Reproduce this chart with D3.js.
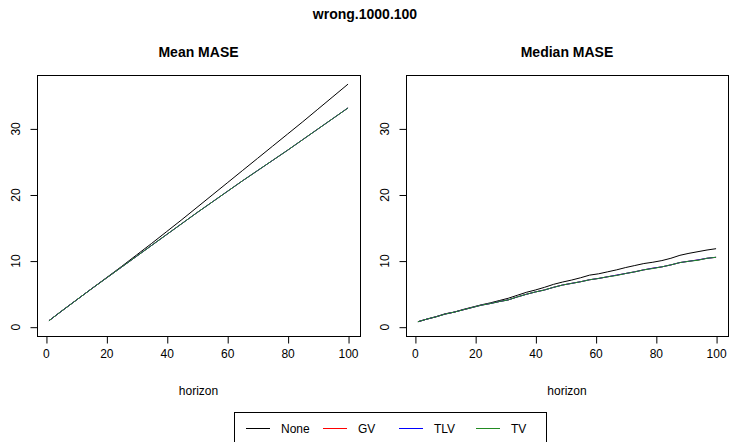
<!DOCTYPE html>
<html>
<head>
<meta charset="utf-8">
<script src="https://cdn.jsdelivr.net/npm/d3@7"></script>
<style>
  body { margin: 0; background: #fff; }
  svg { display: block; font-family: "Liberation Sans", Arial, sans-serif; }
</style>
</head>
<body>
<svg width="730" height="442"></svg>
<script>
// horizons for each panel
const meanHorizons = [1, 5, 10, 15, 20, 25, 30, 35, 40, 45, 50, 55, 60, 65, 70, 75, 80, 85, 90, 95, 100];
const medianHorizons = [1, 4, 7, 10, 13, 16, 19, 22, 25, 28, 31, 34, 37, 40, 43, 46, 49, 52, 55, 58, 61, 64, 67, 70, 73, 76, 79, 82, 85, 88, 91, 94, 97, 100];

// Mean MASE
const meanNone = [0.9, 2.3, 4.0, 5.7, 7.4, 9.1, 10.85, 12.6, 14.4, 16.2, 18.05, 19.9, 21.75, 23.6, 25.45, 27.3, 29.15, 31.0, 32.9, 34.8, 36.7];
const meanGV   = [0.9, 2.3, 4.0, 5.7, 7.35, 9.0, 10.65, 12.3, 13.95, 15.6, 17.25, 18.85, 20.45, 22.05, 23.6, 25.15, 26.7, 28.3, 29.9, 31.5, 33.1];
const meanTLV  = [0.9, 2.3, 4.0, 5.7, 7.35, 9.0, 10.65, 12.3, 13.95, 15.6, 17.25, 18.85, 20.45, 22.05, 23.6, 25.15, 26.7, 28.3, 29.9, 31.5, 33.1];
const meanTV   = [0.9, 2.3, 4.0, 5.7, 7.35, 9.0, 10.65, 12.3, 13.95, 15.6, 17.25, 18.85, 20.45, 22.05, 23.6, 25.15, 26.7, 28.3, 29.9, 31.5, 33.1];

// Median MASE
const medNone = [0.75, 1.15, 1.5, 1.95, 2.2, 2.6, 2.95, 3.3, 3.6, 3.95, 4.3, 4.75, 5.2, 5.55, 5.95, 6.4, 6.75, 7.05, 7.4, 7.8, 8.0, 8.3, 8.6, 8.95, 9.25, 9.55, 9.75, 10.0, 10.35, 10.8, 11.1, 11.35, 11.6, 11.8];
const medGV   = [0.75, 1.15, 1.5, 1.9, 2.2, 2.55, 2.9, 3.25, 3.5, 3.8, 4.05, 4.5, 4.9, 5.25, 5.55, 5.95, 6.3, 6.55, 6.8, 7.1, 7.3, 7.55, 7.8, 8.05, 8.3, 8.6, 8.85, 9.05, 9.35, 9.7, 9.9, 10.1, 10.35, 10.5];
const medTLV  = [0.75, 1.15, 1.5, 1.9, 2.2, 2.55, 2.9, 3.25, 3.5, 3.8, 4.05, 4.5, 4.9, 5.25, 5.55, 5.95, 6.3, 6.55, 6.8, 7.1, 7.3, 7.55, 7.8, 8.05, 8.3, 8.6, 8.85, 9.05, 9.35, 9.7, 9.9, 10.1, 10.35, 10.5];
const medTV   = [0.75, 1.15, 1.5, 1.9, 2.2, 2.55, 2.9, 3.25, 3.5, 3.8, 4.05, 4.5, 4.9, 5.25, 5.55, 5.95, 6.3, 6.55, 6.8, 7.1, 7.3, 7.55, 7.75, 8.05, 8.3, 8.6, 8.8, 9.05, 9.35, 9.7, 9.9, 10.05, 10.35, 10.5];

const seriesNames = ["None", "GV", "TLV", "TV"];
const seriesColors = ["#000000", "#ff0000", "#0000ff", "#228b22"];
const xTicks = [0, 20, 40, 60, 80, 100];
const yTicks = [0, 10, 20, 30];

const svg = d3.select("svg");
svg.append("rect").attr("width", 730).attr("height", 442).attr("fill", "#fff");

svg.append("text")
    .attr("x", 365).attr("y", 19)
    .attr("text-anchor", "middle")
    .style("font-size", "14px").style("font-weight", "bold")
    .text("wrong.1000.100");

const panels = [
    { title: "Mean MASE", left: 37, right: 360, h: meanHorizons, series: [meanNone, meanGV, meanTLV, meanTV] },
    { title: "Median MASE", left: 406, right: 728, h: medianHorizons, series: [medNone, medGV, medTLV, medTV] }
];
const plotTop = 75, plotBottom = 336;

panels.forEach(p => {
    // R style: data range 1..100 padded by 4% each side
    const x = d3.scaleLinear().domain([-2.96, 103.96]).range([p.left, p.right]);
    const y = d3.scaleLinear().domain([-1.41, 38.08]).range([plotBottom, plotTop]);
    const g = svg.append("g");

    // lines, drawn in legend order so TV ends up on top
    p.series.forEach((vals, i) => {
        const line = d3.line()
            .x((d, j) => x(p.h[j]))
            .y(d => y(d));
        g.append("path")
            .datum(vals)
            .attr("fill", "none")
            .attr("stroke", seriesColors[i])
            .attr("stroke-width", 1)
            .attr("d", line);
    });

    // box
    g.append("rect")
        .attr("x", p.left + 0.5).attr("y", plotTop + 0.5)
        .attr("width", p.right - p.left).attr("height", plotBottom - plotTop)
        .attr("fill", "none").attr("stroke", "#000");

    // x axis
    const xa = g.append("g")
        .attr("transform", "translate(0," + (plotBottom + 0.5) + ")")
        .call(d3.axisBottom(x).tickValues(xTicks).tickSize(7).tickPadding(6).tickFormat(d3.format("d")));
    xa.select(".domain").remove();
    xa.selectAll("line").attr("transform", "translate(0.5,0)");
    xa.selectAll("text").style("font-size", "12px").attr("fill", "#000");
    xa.attr("font-family", null);

    // y axis
    const ya = g.append("g")
        .attr("transform", "translate(" + (p.left + 0.5) + ",0)")
        .call(d3.axisLeft(y).tickValues(yTicks).tickSize(7).tickFormat(d3.format("d")));
    ya.select(".domain").remove();
    ya.selectAll("line").attr("transform", "translate(0,0.5)");
    ya.selectAll("text")
        .attr("x", null).attr("dy", null)
        .attr("transform", "translate(-18,0) rotate(-90)")
        .attr("text-anchor", "middle")
        .style("font-size", "12px").attr("fill", "#000");
    ya.attr("font-family", null);

    // titles
    g.append("text")
        .attr("x", (p.left + p.right) / 2).attr("y", 57)
        .attr("text-anchor", "middle")
        .style("font-size", "14px").style("font-weight", "bold")
        .text(p.title);
    g.append("text")
        .attr("x", (p.left + p.right) / 2).attr("y", 395)
        .attr("text-anchor", "middle")
        .style("font-size", "12px")
        .text("horizon");
});

// legend along the bottom
const legend = svg.append("g");
legend.append("rect")
    .attr("x", 234.5).attr("y", 412.5).attr("width", 312).attr("height", 40)
    .attr("fill", "#fff").attr("stroke", "#000");
const legendX = [246, 323, 399, 476];
seriesNames.forEach((name, i) => {
    legend.append("line")
        .attr("x1", legendX[i]).attr("x2", legendX[i] + 24)
        .attr("y1", 428.5).attr("y2", 428.5)
        .attr("stroke", seriesColors[i]);
    legend.append("text")
        .attr("x", legendX[i] + 35).attr("y", 433)
        .style("font-size", "12px")
        .text(name);
});
</script>
</body>
</html>
